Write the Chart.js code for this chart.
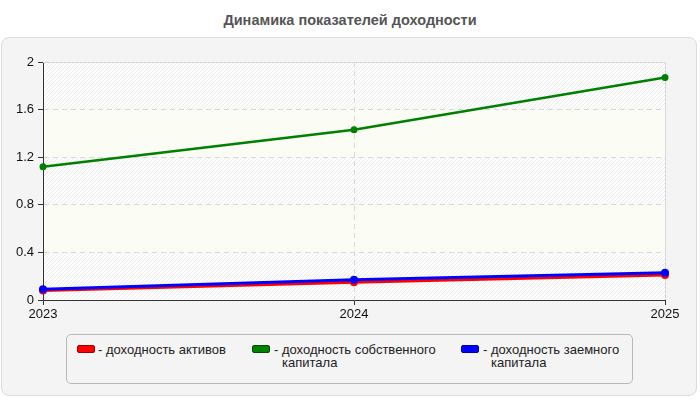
<!DOCTYPE html>
<html>
<head>
<meta charset="utf-8">
<script src="https://cdn.jsdelivr.net/npm/chart.js@4"></script>
<style>
  html, body { margin: 0; padding: 0; background: #ffffff; }
  body { width: 700px; height: 400px; position: relative; overflow: hidden; font-family: "Liberation Sans", Arial, sans-serif; }
  #title { position: absolute; left: 0; top: 12px; width: 700px; text-align: center; font-weight: bold; font-size: 14.5px; color: #555; }
  #panel { position: absolute; left: 1px; top: 37px; width: 694px; height: 357px; background: #f4f4f4; border: 1px solid #dcdcdc; border-radius: 8px; }
  #chart { position: absolute; left: 0; top: 0; }
  #legend { position: absolute; left: 66px; top: 334px; width: 565px; height: 48px; border: 1px solid #b8b8b8; border-radius: 5px; background: #f4f4f4; }
  .item { position: absolute; top: 8px; font-size: 13px; line-height: 13px; color: #222; }
  .sw { position: absolute; top: 2px; width: 16px; height: 6px; border-radius: 2px; border: 1px solid; }
  .txt { position: absolute; top: 0; white-space: nowrap; }
</style>
</head>
<body>
<div id="title">Динамика показателей доходности</div>
<div id="panel"></div>
<canvas id="chart" width="700" height="400"></canvas>
<div id="legend"></div>
<script>
const categories = ['2023', '2024', '2025'];
const assetsReturn = [0.08, 0.15, 0.21];
const equityReturn = [1.12, 1.43, 1.87];
const debtReturn = [0.09, 0.17, 0.23];
const yTicks = [0, 0.4, 0.8, 1.2, 1.6, 2];
const yTickLabels = ['0', '0.4', '0.8', '1.2', '1.6', '2'];
const seriesNames = ['- доходность активов', '- доходность собственного\nкапитала', '- доходность заемного\nкапитала'];
const seriesColors = ['#ff0000', '#008000', '#0000ff'];
const seriesBorders = ['#a00000', '#005000', '#0000a0'];

// legend (HTML)
const legendPos = [[10, 31], [185, 207], [394, 416]];
const legendEl = document.getElementById('legend');
seriesNames.forEach((name, i) => {
  const item = document.createElement('div');
  item.className = 'item';
  item.style.left = legendPos[i][0] + 'px';
  const sw = document.createElement('div');
  sw.className = 'sw';
  sw.style.left = '0px';
  sw.style.background = seriesColors[i];
  sw.style.borderColor = seriesBorders[i];
  const txt = document.createElement('div');
  txt.className = 'txt';
  txt.style.left = (legendPos[i][1] - legendPos[i][0]) + 'px';
  const lines = name.split('\n');
  lines.forEach((l, k) => {
    const s = document.createElement('div');
    s.textContent = l;
    if (k > 0) s.style.paddingLeft = '8px';
    txt.appendChild(s);
  });
  item.appendChild(sw);
  item.appendChild(txt);
  legendEl.appendChild(item);
});

// hatch pattern
function makePattern(ctx) {
  const c = document.createElement('canvas');
  c.width = 4; c.height = 4;
  const p = c.getContext('2d');
  p.fillStyle = '#fdfdfd';
  p.fillRect(0, 0, 4, 4);
  p.strokeStyle = '#ececec';
  p.lineWidth = 1;
  p.beginPath();
  p.moveTo(-1, 5); p.lineTo(5, -1);
  p.stroke();
  return ctx.createPattern(c, 'repeat');
}

const bandsPlugin = {
  id: 'bands',
  beforeDraw(chart) {
    const { ctx, chartArea: a, scales: { y } } = chart;
    const pat = makePattern(ctx);
    ctx.save();
    for (let i = 0; i < yTicks.length - 1; i++) {
      const top = y.getPixelForValue(yTicks[i + 1]);
      const bot = y.getPixelForValue(yTicks[i]);
      ctx.fillStyle = (i % 2 === 0) ? pat : '#fbfcf4';
      ctx.fillRect(a.left, top, a.right - a.left, bot - top);
    }
    ctx.restore();
  },
  beforeDatasetsDraw(chart) {
    const { ctx, chartArea: a } = chart;
    ctx.save();
    ctx.strokeStyle = '#d8d8d8';
    ctx.lineWidth = 1;
    ctx.beginPath();
    ctx.moveTo(a.left, Math.round(a.top) + 0.5);
    ctx.lineTo(Math.round(a.right) + 0.5, Math.round(a.top) + 0.5);
    ctx.lineTo(Math.round(a.right) + 0.5, a.bottom);
    ctx.stroke();
    ctx.restore();
  }
};

const font = { family: '"Liberation Sans", Arial, sans-serif', size: 13 };

new Chart(document.getElementById('chart'), {
  type: 'line',
  data: {
    labels: categories,
    datasets: [
      { label: seriesNames[0], data: assetsReturn, borderColor: seriesColors[0], backgroundColor: seriesColors[0], borderWidth: 3, pointRadius: 4, pointBorderWidth: 0, order: 3 },
      { label: seriesNames[1], data: equityReturn, borderColor: seriesColors[1], backgroundColor: seriesColors[1], borderWidth: 2.5, pointRadius: 3.5, pointBorderWidth: 0, order: 2 },
      { label: seriesNames[2], data: debtReturn, borderColor: seriesColors[2], backgroundColor: seriesColors[2], borderWidth: 3, pointRadius: 4, pointBorderWidth: 0, order: 1 }
    ]
  },
  options: {
    responsive: false,
    animation: false,
    layout: { padding: { left: 0, right: 35, top: 62, bottom: 0 } },
    plugins: { legend: { display: false }, title: { display: false }, tooltip: { enabled: false } },
    scales: {
      x: {
        offset: false,
        afterFit(s) { s.height = 100; },
        grid: {
          color: (c) => c.index === 1 ? '#d8d8d8' : 'rgba(0,0,0,0)',
          tickColor: '#333',
          tickLength: 5,
          lineWidth: 1
        },
        border: { display: true, color: '#333', width: 1, dash: [5, 4] },
        ticks: { color: '#111', font: font, padding: 2, maxRotation: 0 }
      },
      y: {
        min: 0, max: 2,
        afterFit(s) { s.width = 43; },
        afterBuildTicks(s) { s.ticks = yTicks.map(v => ({ value: v })); },
        grid: {
          color: (c) => (c.tick && (c.tick.value === 0 || c.tick.value === 2)) ? 'rgba(0,0,0,0)' : '#d8d8d8',
          tickColor: '#333',
          tickLength: 5,
          lineWidth: 1
        },
        border: { display: true, color: '#333', width: 1, dash: [5, 4] },
        ticks: {
          color: '#111', font: font, padding: 4,
          callback: (v) => { const i = yTicks.indexOf(v); return i >= 0 ? yTickLabels[i] : ''; }
        }
      }
    }
  },
  plugins: [bandsPlugin]
});
</script>
</body>
</html>
